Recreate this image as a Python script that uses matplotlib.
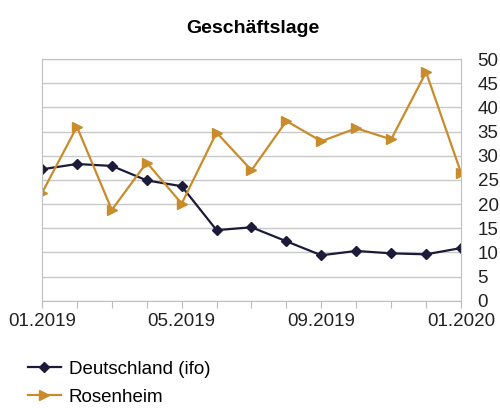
import matplotlib
matplotlib.use("Agg")
import matplotlib.pyplot as plt

# Daten
monate = ["01.2019", "02.2019", "03.2019", "04.2019", "05.2019", "06.2019", "07.2019",
          "08.2019", "09.2019", "10.2019", "11.2019", "12.2019", "01.2020"]
deutschland = [27.2, 28.3, 27.9, 24.9, 23.7, 14.6, 15.2, 12.3, 9.4, 10.3, 9.8, 9.6, 10.9]
rosenheim = [22.3, 36.0, 18.8, 28.6, 20.1, 34.8, 27.0, 37.2, 33.0, 35.7, 33.4, 47.3, 26.5]

plt.rcParams['font.family'] = ['Liberation Sans', 'DejaVu Sans']

fig = plt.figure(figsize=(5, 4.08), dpi=100)
ax = fig.add_axes([0.084, 0.263, 0.838, 0.592])

x = list(range(len(monate)))
ax.plot(x, deutschland, color='#1c1b3a', marker='D', markersize=5, linewidth=1.6,
        label='Deutschland (ifo)')
ax.plot(x, rosenheim, color='#c98c2c', marker='>', markersize=7, linewidth=1.6,
        label='Rosenheim')

ax.set_xlim(0, 12)
ax.set_ylim(0, 50)
ax.set_yticks(range(0, 51, 5))
ax.yaxis.tick_right()
ax.tick_params(axis='y', length=0, pad=12, labelsize=13.5, colors='#222222')
ax.set_xticks(x)
ax.set_xticklabels([m if i % 4 == 0 else "" for i, m in enumerate(monate)])
ax.tick_params(axis='x', length=5, color='#bbbbbb', pad=4, labelsize=13.5,
               labelcolor='#222222')
ax.grid(axis='y', color='#c8c8c8', linewidth=1)
for s in ax.spines.values():
    s.set_color('#c0c0c0')
ax.set_axisbelow(True)

fig.suptitle("Geschäftslage", x=0.505, y=0.95, fontsize=14, fontweight='bold')

fig.legend(loc='upper left', bbox_to_anchor=(0.04, 0.135), frameon=False,
           fontsize=13.5, handlelength=1.8, handletextpad=0.4, labelspacing=0.6,
           borderaxespad=0)

fig.savefig("out.png", dpi=100)
